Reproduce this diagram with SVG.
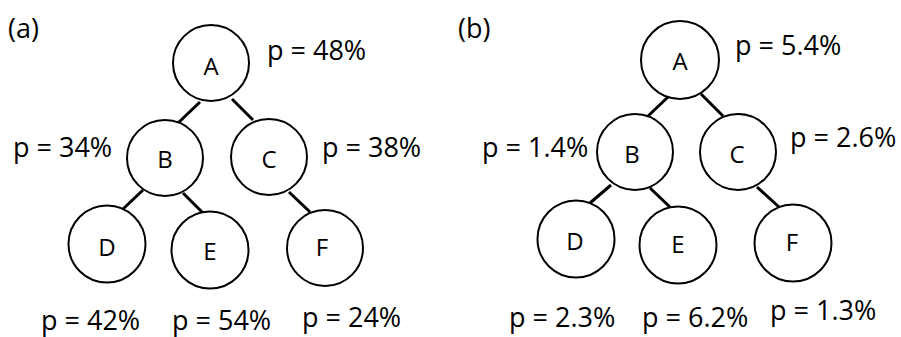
<svg xmlns="http://www.w3.org/2000/svg" width="901" height="337" viewBox="0 0 901 337">
<style>
.n circle{fill:#fff;stroke:#000;stroke-width:2}
.n text{font-family:"Open Sans","Liberation Sans",sans-serif;font-size:24px;text-anchor:middle;fill:#000}
.lbl{font-family:"Open Sans","Liberation Sans",sans-serif;font-size:27px;fill:#000}
#edges line{stroke:#000;stroke-width:3}
</style>
<rect width="901" height="337" fill="#fff"/>
<g id="edges">
<line x1="200" y1="102" x2="178" y2="123"/>
<line x1="232" y1="99" x2="253" y2="120"/>
<line x1="143" y1="190" x2="123" y2="209"/>
<line x1="183" y1="193" x2="203" y2="213"/>
<line x1="289" y1="192" x2="310" y2="212"/>
<line x1="668" y1="97" x2="647" y2="117"/>
<line x1="701" y1="94" x2="723" y2="116"/>
<line x1="611" y1="185" x2="590" y2="203"/>
<line x1="650" y1="188" x2="672" y2="209"/>
<line x1="757" y1="187" x2="779" y2="207"/>
</g>
<g id="a-A" class="n"><circle cx="211" cy="63" r="38"/><text x="211" y="75">A</text></g>
<g id="a-B" class="n"><circle cx="165" cy="158" r="38"/><text x="165" y="168">B</text></g>
<g id="a-C" class="n"><circle cx="269" cy="157" r="38"/><text x="269" y="168">C</text></g>
<g id="a-D" class="n"><circle cx="107" cy="244" r="38.5"/><text x="107" y="256">D</text></g>
<g id="a-E" class="n"><circle cx="210" cy="250" r="38.5"/><text x="210" y="260">E</text></g>
<g id="a-F" class="n"><circle cx="325" cy="248" r="38"/><text x="322" y="256">F</text></g>
<g id="b-A" class="n"><circle cx="680" cy="60" r="39"/><text x="680" y="70">A</text></g>
<g id="b-B" class="n"><circle cx="635" cy="152" r="38"/><text x="632" y="163">B</text></g>
<g id="b-C" class="n"><circle cx="738" cy="152" r="38"/><text x="737" y="163">C</text></g>
<g id="b-D" class="n"><circle cx="576" cy="239" r="38.5"/><text x="575" y="250">D</text></g>
<g id="b-E" class="n"><circle cx="678" cy="245" r="38.5"/><text x="678" y="253">E</text></g>
<g id="b-F" class="n"><circle cx="793" cy="243" r="38.5"/><text x="792" y="251">F</text></g>
<g id="labels">
<text class="lbl" x="8" y="38">(a)</text>
<text class="lbl" x="267" y="60">p = 48%</text>
<text class="lbl" x="13" y="157">p = 34%</text>
<text class="lbl" x="322" y="157">p = 38%</text>
<text class="lbl" x="41" y="330">p = 42%</text>
<text class="lbl" x="172" y="330">p = 54%</text>
<text class="lbl" x="302" y="327">p = 24%</text>
<text class="lbl" x="458" y="38">(b)</text>
<text class="lbl" x="735" y="55">p = 5.4%</text>
<text class="lbl" x="482" y="157">p = 1.4%</text>
<text class="lbl" x="790" y="147">p = 2.6%</text>
<text class="lbl" x="509" y="327">p = 2.3%</text>
<text class="lbl" x="642" y="327">p = 6.2%</text>
<text class="lbl" x="770" y="320">p = 1.3%</text>
</g>
</svg>
